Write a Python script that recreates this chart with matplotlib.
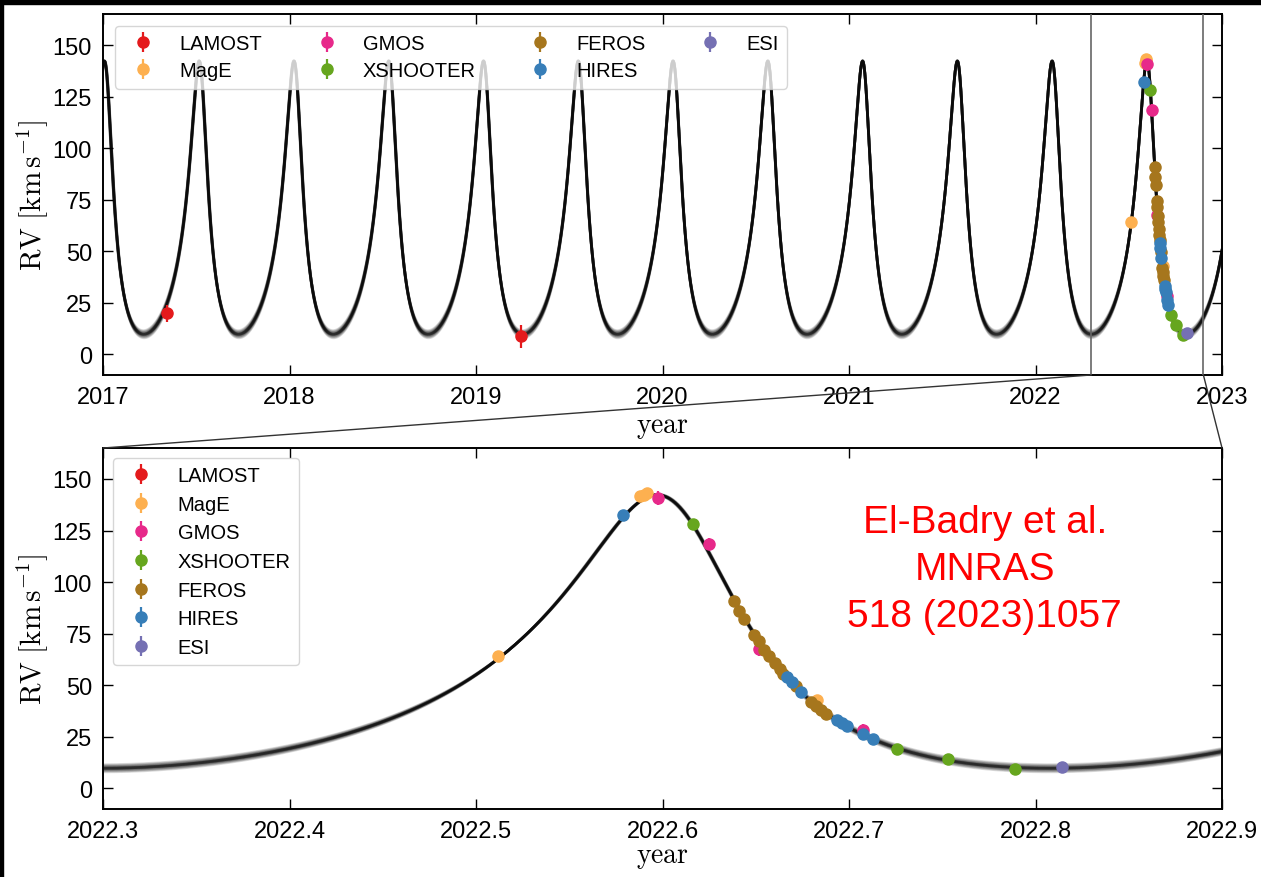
import matplotlib
matplotlib.use("Agg")
import matplotlib.pyplot as plt
import numpy as np
from matplotlib.patches import ConnectionPatch, Rectangle
from matplotlib.ticker import FormatStrFormatter, MultipleLocator

plt.rcParams['font.family'] = ['Liberation Sans', 'DejaVu Sans']
plt.rcParams['mathtext.fontset'] = 'cm'

# orbital solution (Keplerian), time in decimal years
P_DAYS = 185.59
T_PERI = 2022.605
ECC = 0.4425
K_AMP = 66.26
GAMMA = 47.84
OMEGA_DEG = 16.0

# posterior spread: offsets along (dP [d], dT [yr], de, dK, dgamma), scaled per draw
spread_dir = (0.06, 0.0004, 0.004, -0.6, 0.8)
draw_scales = [0.0, 0.1, -0.1, 0.2, -0.2, 0.3, -0.3, 0.45, -0.45,
               0.6, -0.6, 0.8, -0.8, 1.0, -1.0, 1.25, -1.25]
period_only = [0.04, -0.04, 0.08, -0.08]

# RV measurements: time [yr], RV [km/s], error [km/s]
lamost_t = [2017.343, 2019.241]
lamost_rv = [19.9, 8.7]
lamost_err = [4.0, 5.4]

mage_t = [2022.5118, 2022.5879, 2022.5900, 2022.5918, 2022.6826]
mage_rv = [64.3, 141.6, 142.4, 143.2, 43.0]
mage_err = [1.5, 1.5, 1.5, 1.5, 1.5]

gmos_t = [2022.5977, 2022.6251, 2022.6515, 2022.7073]
gmos_rv = [141.0, 118.5, 67.4, 28.4]
gmos_err = [3.4, 3.0, 3.0, 3.0]

xsh_t = [2022.6162, 2022.7257, 2022.7533, 2022.7888]
xsh_rv = [128.1, 19.3, 14.1, 9.3]
xsh_err = [1.0, 1.0, 1.0, 1.0]

feros_t = [2022.6383, 2022.6410, 2022.6437, 2022.6491, 2022.6519, 2022.6546,
           2022.6573, 2022.6601, 2022.6630, 2022.6648, 2022.6714, 2022.6794,
           2022.6823, 2022.6852, 2022.6878]
feros_rv = [90.7, 86.2, 82.0, 74.5, 71.3, 67.2,
            64.1, 60.9, 58.0, 55.5, 49.8, 42.0,
            40.1, 38.1, 36.3]
feros_err = [1.0] * len(feros_t)

hires_t = [2022.5790, 2022.6666, 2022.6692, 2022.6744, 2022.6934, 2022.6960,
           2022.6991, 2022.7073, 2022.7128]
hires_rv = [132.3, 53.9, 51.5, 46.6, 33.3, 31.7, 30.3, 26.4, 24.1]
hires_err = [0.5] * len(hires_t)

esi_t = [2022.8140]
esi_rv = [10.4]
esi_err = [1.0]

datasets = [
    ("LAMOST", lamost_t, lamost_rv, lamost_err, "#e41a1c"),
    ("MagE", mage_t, mage_rv, mage_err, "#fdb050"),
    ("GMOS", gmos_t, gmos_rv, gmos_err, "#e7298a"),
    ("XSHOOTER", xsh_t, xsh_rv, xsh_err, "#66a61e"),
    ("FEROS", feros_t, feros_rv, feros_err, "#a6761d"),
    ("HIRES", hires_t, hires_rv, hires_err, "#377eb8"),
    ("ESI", esi_t, esi_rv, esi_err, "#7570b3"),
]


def kepler_rv(t, P, Tp, e, K, gamma, omega):
    M = 2 * np.pi * (t - Tp) / (P / 365.25)
    E = M.copy()
    for _ in range(30):
        E = E - (E - e * np.sin(E) - M) / (1 - e * np.cos(E))
    nu = 2 * np.arctan2(np.sqrt(1 + e) * np.sin(E / 2), np.sqrt(1 - e) * np.cos(E / 2))
    w = np.radians(omega)
    return gamma + K * (np.cos(nu + w) + e * np.cos(w))


def draw_panel(ax, t0, t1, xpad):
    tt = np.linspace(t0, t1, 20000)
    dP, dT, de, dK, dg = spread_dir
    for s in draw_scales:
        rv = kepler_rv(tt, P_DAYS + s * dP, T_PERI + s * dT, ECC + s * de,
                       K_AMP + s * dK, GAMMA + s * dg, OMEGA_DEG)
        ax.plot(tt, rv, color='k', lw=2.0, alpha=0.13, zorder=1)
    for p in period_only:
        rv = kepler_rv(tt, P_DAYS + p, T_PERI, ECC, K_AMP, GAMMA, OMEGA_DEG)
        ax.plot(tt, rv, color='k', lw=2.0, alpha=0.13, zorder=1)
    for name, t, rv, err, col in datasets:
        ax.errorbar(t, rv, yerr=err, fmt='o', color=col, ms=8, elinewidth=1.6,
                    capsize=0, label=name, zorder=3)
    ax.set_xlim(t0, t1)
    ax.set_ylim(-10, 165)
    ax.yaxis.set_major_locator(MultipleLocator(25))
    ax.tick_params(direction='in', top=True, right=True, length=7, width=1,
                   labelsize=17, pad=8)
    for sp in ax.spines.values():
        sp.set_linewidth(1.4)
    ax.set_ylabel(r'$\rm RV\ [km\,s^{-1}]$', fontsize=21, labelpad=1)
    ax.set_xlabel(r'$\rm year$', fontsize=20, labelpad=xpad)


fig = plt.figure(figsize=(12.61, 8.78), dpi=100)
ax1 = fig.add_axes([0.0817, 0.5718, 0.8874, 0.4108])
ax2 = fig.add_axes([0.0817, 0.0774, 0.8874, 0.4112])

draw_panel(ax1, 2017, 2023, 4)
ax1.xaxis.set_major_locator(MultipleLocator(1))
ax1.xaxis.set_major_formatter(FormatStrFormatter('%d'))
ax1.legend(loc='upper left', ncol=4, fontsize=14.5, labelspacing=0.4,
           borderaxespad=0.6, columnspacing=2.2)

draw_panel(ax2, 2022.3, 2022.9, 1.5)
ax2.xaxis.set_major_locator(MultipleLocator(0.1))
ax2.xaxis.set_major_formatter(FormatStrFormatter('%.1f'))
ax2.legend(loc='upper left', fontsize=14.5, labelspacing=0.48, borderaxespad=0.5)

ax2.text(0.788, 0.665, "El-Badry et al.\nMNRAS\n518 (2023)1057", transform=ax2.transAxes,
         color='red', fontsize=28, ha='center', va='center', linespacing=1.38)

# zoom window marked on the upper panel
for x in (2022.3, 2022.9):
    ax1.axvline(x, color='0.4', lw=1.2, zorder=4)
    con = ConnectionPatch(xyA=(x, -10), coordsA=ax1.transData,
                          xyB=(x, 165), coordsB=ax2.transData,
                          color='0.2', lw=1.0)
    fig.add_artist(con)

# dark edge strips
fig.add_artist(Rectangle((0, 1 - 5 / 878), 1, 5 / 878, transform=fig.transFigure,
                         color='k', zorder=10))
fig.add_artist(Rectangle((0, 0), 3 / 1261, 1, transform=fig.transFigure,
                         color='k', zorder=10))

fig.savefig("out.png", dpi=100)
